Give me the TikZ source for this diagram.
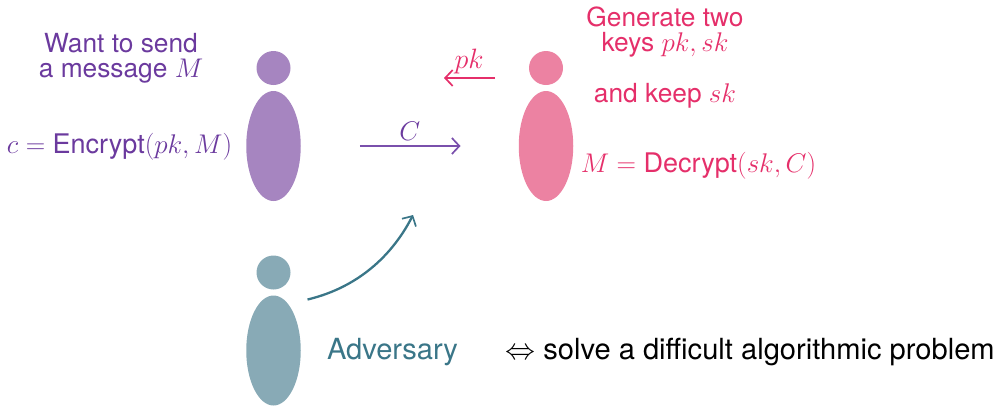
\RequirePackage{fix-cm}
\documentclass[tikz,border=0pt]{standalone}
\usepackage[no-math]{fontspec}
\setmainfont{TeX Gyre Heros}
\usetikzlibrary{arrows.meta,shapes.geometric,bending}
\DeclareMathSizes{26.3}{27}{20}{15}
\DeclareMathSizes{27}{27}{20}{15}
\DeclareMathSizes{28}{28}{20}{15}
\DeclareMathSizes{29.1}{30}{21}{15}
\definecolor{purpT}{HTML}{6B3A9E}
\definecolor{purpA}{HTML}{7A50AC}
\definecolor{purpB}{HTML}{A685C0}
\definecolor{pinkT}{HTML}{E52F6A}
\definecolor{pinkB}{HTML}{EC82A2}
\definecolor{tealT}{HTML}{3A7688}
\definecolor{tealB}{HTML}{88AAB6}
\tikzset{
  head/.style={circle,inner sep=0pt,minimum size=34pt,fill=#1},
  body/.style={ellipse,inner sep=0pt,minimum width=54.5pt,minimum height=110pt,fill=#1},
  txt/.style={inner sep=0pt,outer sep=0pt,text=#1,anchor=base},
  fsA/.style={font=\fontsize{26.3}{24.5}\selectfont},
  fsB/.style={font=\fontsize{27}{24}\selectfont},
  fsP/.style={font=\fontsize{28}{24}\selectfont},
  fsC/.style={font=\fontsize{29.1}{24}\selectfont},
  tip/.style={-{Straight Barb[length=7.5pt,width=16pt,line width=1.7pt,bend]}},
  conn/.style={draw=#1,line width=1.7pt,tip}
}
\begin{document}
\begin{tikzpicture}[x=1pt,y=-1pt]
\useasboundingbox (0,0) rectangle (996,405);
% figures
\node[head=purpB] (h1) at (273.5,68) {};
\node[body=purpB] (b1) at (273.5,146) {};
\node[head=pinkB] (h2) at (546,68) {};
\node[body=pinkB] (b2) at (546,146) {};
\node[head=tealB] (h3) at (273.5,272.5) {};
\node[body=tealB] (b3) at (273.5,350.5) {};
% left texts
\node[txt=purpT,fsA,align=center,anchor=center] (want) at (121,58.5) {Want to send\\a message $M$};
\node[txt=purpT,fsB] (enc) at (119.5,153) {$c=\mbox{Encrypt}(pk,M)$};
% right texts
\node[txt=pinkT,fsA,align=center,anchor=center] (gen) at (665,32) {Generate two\\keys $pk,sk$};
\node[txt=pinkT,fsA] (keep) at (665,102) {and keep $sk$};
\node[txt=pinkT,fsB] (dec) at (698.5,172) {$M=\mbox{Decrypt}(sk,C)$};
% bottom texts
\node[txt=tealT,fsC] (adv) at (392.5,359) {Adversary};
\node[txt=black,fsC] (solve) at (750,359) {$\Leftrightarrow$ solve a difficult algorithmic problem};
% connectors
\draw[conn=purpA,shorten >=58pt,shorten <=59pt] (b1) -- node[pos=.5,above=5pt,inner sep=0pt,text=purpT,fsB] (clab) {$C$} (b2);
\coordinate (pkS) at (495,78);
\coordinate (pkE) at (444,78);
\draw[conn=pinkT] (pkS) -- (pkE);
\node[txt=pinkT,fsP] (pklab) at (469,68) {$pk$};
\coordinate (advS) at (307.5,299.5);
\coordinate (advE) at (413,215);
\draw[conn=tealT,line width=2.3pt] (advS) .. controls (352,289) and (390,261) .. (advE);
\end{tikzpicture}
\end{document}
